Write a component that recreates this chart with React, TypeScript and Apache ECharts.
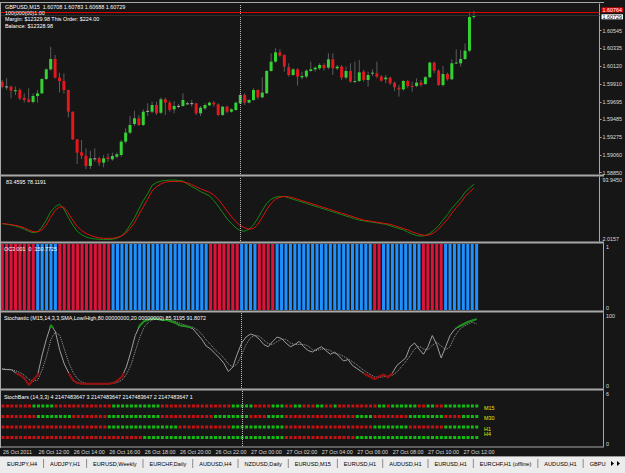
import React, { useEffect, useRef } from "react";
import * as echarts from "echarts";

// ---------------- data ----------------
const opens = [
  1.59936, 1.59877, 1.59877, 1.59829, 1.59837, 1.59745, 1.59726, 1.59694, 1.59765, 1.59797,
  1.59968, 1.60084, 1.60207, 1.59984, 1.59944, 1.59837, 1.59578, 1.59248, 1.59093, 1.59053,
  1.5893, 1.59021, 1.59021, 1.58969, 1.59033, 1.59009, 1.59041, 1.59061, 1.5922, 1.59328,
  1.59431, 1.59499, 1.59419, 1.59586, 1.59578, 1.59658, 1.59566, 1.59726, 1.59686, 1.59606,
  1.59646, 1.59646, 1.59678, 1.59678, 1.59678, 1.59559, 1.59618, 1.59654, 1.59686, 1.59666,
  1.59539, 1.59638, 1.59578, 1.59598, 1.59678, 1.59778, 1.59686, 1.59718, 1.59837, 1.5975,
  1.59798, 1.60064, 1.60176, 1.60287, 1.60255, 1.60108, 1.60016, 1.60084, 1.59989, 1.59997,
  1.60064, 1.60084, 1.60096, 1.60136, 1.60104, 1.60203, 1.60096, 1.60116, 1.59985, 1.60064,
  1.59937, 1.59945, 1.60056, 1.59957, 1.60036, 1.60036, 1.59997, 1.59965, 1.59985, 1.59925,
  1.59865, 1.59845, 1.59945, 1.59885, 1.59885, 1.59925, 1.59909, 1.59989, 1.60164, 1.60068,
  1.59897, 1.60028, 1.59965, 1.60156, 1.60156, 1.60207, 1.60307, 1.60708,
];
const highs = [
  1.59956, 1.59976, 1.59889, 1.59877, 1.59857, 1.59797, 1.59857, 1.59797, 1.59837, 1.59976,
  1.60096, 1.60354, 1.60255, 1.60044, 1.60036, 1.5984, 1.5958, 1.5925, 1.5924, 1.5914,
  1.59113, 1.5914, 1.59041, 1.59061, 1.59081, 1.59089, 1.59089, 1.5924, 1.59379, 1.59527,
  1.5959, 1.59538, 1.59606, 1.59678, 1.59698, 1.59698, 1.59749, 1.59745, 1.5971, 1.59706,
  1.5967, 1.59797, 1.59698, 1.59718, 1.59686, 1.59646, 1.59678, 1.59698, 1.59706, 1.59678,
  1.59646, 1.5965, 1.59618, 1.59698, 1.59798, 1.59798, 1.59726, 1.59857, 1.59845, 1.59989,
  1.60076, 1.60275, 1.60335, 1.60323, 1.60263, 1.60156, 1.60096, 1.60096, 1.60056, 1.60084,
  1.60176, 1.60116, 1.60156, 1.60156, 1.60275, 1.60275, 1.60136, 1.60136, 1.60116, 1.60156,
  1.60176, 1.60195, 1.60076, 1.60056, 1.60084, 1.60176, 1.60016, 1.60016, 1.59997, 1.59937,
  1.59897, 1.59957, 1.59957, 1.59937, 1.59977, 1.59957, 1.60004, 1.60176, 1.60176, 1.60084,
  1.60124, 1.60044, 1.60203, 1.60323, 1.60315, 1.60394, 1.60772, 1.60783,
];
const lows = [
  1.59857, 1.59837, 1.59737, 1.59777, 1.59718, 1.59686, 1.59686, 1.59678, 1.59686, 1.59789,
  1.59956, 1.60068, 1.59976, 1.59809, 1.59797, 1.59511, 1.5924, 1.58953, 1.59013, 1.58894,
  1.58894, 1.58981, 1.5893, 1.58914, 1.58981, 1.58993, 1.59021, 1.59041, 1.592, 1.59312,
  1.59407, 1.59407, 1.59407, 1.59527, 1.59558, 1.59538, 1.5955, 1.59538, 1.59578, 1.59558,
  1.59618, 1.59638, 1.59658, 1.59638, 1.59538, 1.59527, 1.59598, 1.59646, 1.59638, 1.59527,
  1.59527, 1.59559, 1.59567, 1.5959, 1.5967, 1.59658, 1.59678, 1.59706, 1.59726, 1.59738,
  1.5979, 1.60056, 1.60164, 1.60235, 1.60056, 1.59997, 1.60004, 1.59889, 1.59965, 1.59977,
  1.60056, 1.60056, 1.60076, 1.60068, 1.60084, 1.60016, 1.60076, 1.59957, 1.59965, 1.59925,
  1.59917, 1.59933, 1.59937, 1.59877, 1.60004, 1.59977, 1.59937, 1.59917, 1.59897, 1.59825,
  1.59758, 1.59829, 1.59857, 1.59817, 1.59869, 1.59877, 1.59897, 1.59977, 1.60036, 1.59885,
  1.59877, 1.59949, 1.59957, 1.60148, 1.60116, 1.60195, 1.60288, 1.60688,
];
const closes = [
  1.59877, 1.5988, 1.59829, 1.59833, 1.59737, 1.59718, 1.59694, 1.59765, 1.59797, 1.59968,
  1.60084, 1.60207, 1.59984, 1.59944, 1.59837, 1.59578, 1.59248, 1.59089, 1.59053, 1.5893,
  1.59021, 1.59018, 1.58969, 1.59021, 1.59013, 1.59049, 1.59069, 1.5922, 1.59328, 1.59419,
  1.59499, 1.59419, 1.59578, 1.59588, 1.59658, 1.59558, 1.59726, 1.59686, 1.59598, 1.59646,
  1.59648, 1.59718, 1.59678, 1.5968, 1.59558, 1.59626, 1.59658, 1.59686, 1.59666, 1.59539,
  1.59638, 1.59578, 1.59606, 1.59686, 1.59778, 1.59686, 1.59718, 1.59837, 1.5975, 1.59806,
  1.60064, 1.60176, 1.60287, 1.60247, 1.60116, 1.60016, 1.60084, 1.59997, 1.60004, 1.60068,
  1.60084, 1.60104, 1.60136, 1.60096, 1.60203, 1.60096, 1.60116, 1.59985, 1.60064, 1.59937,
  1.59945, 1.60048, 1.59957, 1.60016, 1.60044, 1.59997, 1.59949, 1.59985, 1.59917, 1.59869,
  1.59845, 1.59945, 1.59885, 1.59877, 1.59925, 1.59897, 1.59989, 1.60164, 1.60068, 1.59897,
  1.60028, 1.59965, 1.60156, 1.60164, 1.60207, 1.60307, 1.60708, 1.60729,
];

const oscGreen = [
  27, 26, 25, 23.5, 21.5, 19, 16, 14, 15, 22, 32, 44, 51, 55, 48, 36, 25, 16, 11, 8,
  6, 5, 4.5, 4.3, 4.3, 4.5, 6, 9, 15, 25, 35, 48, 60, 70, 82, 86, 88, 89, 89.5, 89.5,
  89, 88, 84, 80, 77, 73, 70, 67, 60, 52, 43, 34, 27, 21, 17, 16, 19, 25, 35, 46,
  56, 62, 65, 66, 66, 64, 62, 60, 58, 56, 54, 52, 50, 48, 46, 44, 42, 40, 38, 36,
  34, 32, 31, 30, 29, 28, 27, 26, 24, 22, 20, 18, 15, 12, 10, 9, 10, 13, 18, 24,
  32, 40, 49, 56, 63, 72, 78, 83.4595,
];
const oscRed = [
  27, 26.5, 25.5, 24.5, 23, 21, 18, 15.5, 15, 18, 25, 36, 46, 51, 50.5, 42, 32, 23, 17, 13,
  10, 8, 6.5, 6, 5.8, 6, 7, 9, 13, 20, 28, 40, 51, 62, 74, 80, 84, 86.5, 87.5, 87.5,
  87.3, 87, 85.5, 83, 80, 77, 74.5, 72, 68, 62, 54, 45, 37, 30, 24, 21, 19, 20, 26, 36,
  47, 56, 62, 65, 66, 65.5, 64, 62, 60, 58, 56, 54, 52, 50, 48, 46, 44, 42, 40, 38,
  36, 34, 32, 31, 30, 29, 28, 27, 26, 24, 22, 20, 18, 15, 13, 11, 10, 11, 14, 19,
  26, 33, 42, 50, 57, 66, 72, 78.1191,
];

// histogram colours: R = red, B = blue, one letter per bar
const histColors =
  "RRRRRRRR" + "BBBBB" + "RRRRRRRRRRRR" + "BBBBBBBBBBBBBBBBBBBBBB" + "RRRRRRR" + "BBBB" +
  "RRRR" + "BBBBBBBBBBBBBBBBBBBBBB" + "RR" + "BBBBBBBBB" + "RRRRR" + "BBBBBBBB";

const stochMain = [
  25, 24.5, 24.5, 20.4, 17.3, 13, 4, 10.7, 17.3, 44, 66, 84, 75, 50, 32, 20,
  10, 6.5, 5.8, 5.8, 5.8, 5.8, 5.8, 5.8, 5.8, 6.5, 10, 15, 28, 48, 70, 83, 89, 91,
  93, 92, 90.5, 91, 89, 87, 83.5, 82.5, 81.5, 79, 72, 65, 56, 52, 46, 40,
  33, 22, 28, 45, 60, 68, 72, 70, 65, 58, 55, 62, 68, 66, 60, 55, 58, 62, 55, 50, 48, 52,
  55, 50, 45, 48, 42, 36, 38, 30, 26, 22, 18, 15, 12, 15, 18, 14,
  20, 30, 35, 40, 55, 60, 52, 45, 55, 70, 58, 40, 55, 70, 78, 82, 85, 88, 90, 91.8072,
];
const stochSignal = [
  26, 25, 24.5, 23, 20.7, 17, 11.4, 9.2, 10.7, 24, 42, 65, 75, 70, 52, 34,
  20.7, 12, 7.5, 6, 5.8, 5.8, 5.8, 5.8, 5.8, 6, 7.5, 10.5, 18, 30, 49, 67, 81, 88,
  91, 92, 92, 91, 90, 89, 86.5, 84.3, 82.5, 81, 77.5, 72, 64, 58, 51, 46,
  40, 32, 28, 32, 44, 58, 67, 70, 69, 64, 59, 58, 62, 65, 65, 60, 58, 58, 58, 56, 51, 50,
  52, 52, 50, 46, 45, 42, 39, 35, 31, 26, 22, 18, 15, 14, 15, 16,
  17, 21, 28, 35, 43, 52, 56, 52, 51, 57, 61, 56, 51, 55, 68, 77, 82, 85, 88, 85.3195,
];

// StochBars rows (G = green, R = red), one letter per bar
const sbM15 = "RRRRRRRGGGGGRRRRRRRRRRRRRGGGGGGGGGGGRRRRRRRRRRRRRRRRGGGGGRRRRGGGRRGGRRRGGRRGRRRRRRRRRGGRGGGGGGRRGGRRGGGGGGGG";
const sbM30 = "RRRRRRRRGGGGGGGGRRRRRRRRGGGGGGGGGGGGRRRRRRRRRRRRGGGGGGGGRRRRGGGGRRRRRRRRRRRRRRRRGGGGRRRRRRRRGGGGGGGGRRRRGGGGGGGG";
const sbH1 = "RRRRRRRRRRRRRRRRRRRRRRRRGGGGGGGGGGGGGGGGRRRRRRRRRRRRGGGGGGGGGGGGRRRRRRRRRRRRRRRRRRRRGGGGGGGGRRRRRRRRGGGGGGGGGGGG";
const sbH4 = "RRRRRRRRRRRRRRRRRRRRRRRRRRRRRRRRGGGGGGGGGGGGGGGGGGGGGGGGGGGGGGGGRRRRRRRRRRRRRRRRGGGGGGGGGGGGGGGGGGGGGGGGGGGGGGGG";
const sbLevels = [4, 3, 2, 1];
const sbNames = ["M15", "M30", "H1", "H4"];

const timeLabels = [
  "26 Oct 2011", "26 Oct 12:00", "26 Oct 14:00", "26 Oct 16:00", "26 Oct 18:00",
  "26 Oct 20:00", "26 Oct 22:00", "27 Oct 00:00", "27 Oct 02:00", "27 Oct 04:00",
  "27 Oct 06:00", "27 Oct 08:00", "27 Oct 10:00", "27 Oct 12:00",
];
const priceTicks = [
  "1.58850", "1.59060", "1.59275", "1.59485", "1.59695", "1.59910", "1.60120", "1.60335", "1.60545",
];
const bidPrice = 1.60729;
const askPrice = 1.60764;

const tabs = [
  "EURJPY,H4", "AUDJPY,H1", "EURUSD,Weekly", "EURCHF,Daily", "AUDUSD,H4", "NZDUSD,Daily",
  "EURUSD,M15", "EURUSD,H1", "AUDUSD,H1", "EURUSD,H1", "EURCHF,H1 (offline)", "AUDUSD,H1", "GBPUSD,M15",
];

// ---------------- look ----------------
const BG = "#161616";
const FRAME = "#a8a8a8";
const TXT = "#dcdcdc";
const FONT = "Liberation Sans, Arial, sans-serif";
const FS = 5.4;
const TAB_FS = 5.6;
const SLOTS = 136;
const SEP_BAR = 54;
const PANES = [
  { top: 4, height: 170 },
  { top: 177, height: 64 },
  { top: 244, height: 66 },
  { top: 313, height: 75 },
  { top: 391, height: 55 },
];
// visible value range of the StochBars window (labels show the rounded 6 / 0)
const SB_MIN = 0.19;
const SB_MAX = 5.43;

export default function App() {
  const ref = useRef<HTMLDivElement>(null);

  useEffect(() => {
    const el = ref.current!;
    const chart = echarts.init(el, null, { renderer: "svg" });
    const cats = Array.from({ length: SLOTS }, (_, i) => String(i));

    const xAxes = PANES.map((_, k) => ({
      type: "category",
      gridIndex: k,
      data: cats,
      boundaryGap: true,
      axisLine: { show: false },
      axisTick: { show: false },
      splitLine: { show: false },
      axisLabel:
        k === 4
          ? {
              show: true,
              interval: 7,
              formatter: (_v: string, idx: number) => timeLabels[idx / 8] ?? "",
              color: TXT,
              fontSize: FS,
              fontFamily: FONT,
              align: "left",
              verticalAlign: "top",
              margin: 3,
            }
          : { show: false },
    }));

    const axisBase = (k: number, min: number, max: number) => ({
      type: "value",
      gridIndex: k,
      position: "right",
      min,
      max,
      splitLine: { show: false },
      axisLine: { show: true, lineStyle: { color: FRAME, width: 1 } },
    });
    const edgeAxis = (k: number, min: number, max: number, val: number, label: string, va: string) => ({
      ...axisBase(k, min, max),
      axisTick: { show: false },
      axisLabel: {
        customValues: [val],
        formatter: () => label,
        color: TXT,
        fontSize: FS,
        fontFamily: FONT,
        verticalAlign: va,
        margin: 3,
      },
    });

    const tickVals = priceTicks.map(Number);
    const yAxes: any[] = [
      {
        ...axisBase(0, 1.58834, 1.60864),
        axisTick: { show: true, length: 2, customValues: tickVals, lineStyle: { color: FRAME } },
        axisLabel: {
          customValues: tickVals,
          formatter: (v: number) => priceTicks.find((s) => Math.abs(Number(s) - v) < 1e-7) ?? "",
          color: TXT,
          fontSize: FS,
          fontFamily: FONT,
          margin: 3,
        },
      },
      edgeAxis(1, 2.0157, 93.945, 93.945, "93.9450", "top"),
      edgeAxis(1, 2.0157, 93.945, 2.0157, "2.0157", "bottom"),
      edgeAxis(2, 0, 1, 1, "1", "top"),
      edgeAxis(2, 0, 1, 0, "0", "bottom"),
      edgeAxis(3, 0, 100, 100, "100", "top"),
      edgeAxis(3, 0, 100, 0, "0", "bottom"),
      edgeAxis(4, SB_MIN, SB_MAX, SB_MAX, "6", "top"),
      edgeAxis(4, SB_MIN, SB_MAX, SB_MIN, "0", "bottom"),
    ];

    const sepLine = {
      xAxis: SEP_BAR,
      lineStyle: { type: "dotted", color: "#bdbdbd", width: 1 },
      label: { show: false },
    };
    const sepMark = { silent: true, symbol: "none", animation: false, data: [sepLine] };
    const priceLabel = (txt: string, color: string, bg: string, dy: number) => ({
      show: true,
      position: "end",
      distance: 2,
      offset: [0, dy],
      formatter: txt,
      color,
      backgroundColor: bg,
      fontSize: FS,
      fontFamily: FONT,
      padding: [0, 1],
    });

    const candleData = opens.map((o, i) => [i, o, closes[i], lows[i], highs[i]]);

    const series: any[] = [
      {
        type: "custom",
        xAxisIndex: 0,
        yAxisIndex: 0,
        data: candleData,
        renderItem: (_p: any, api: any) => {
          const x = api.value(0);
          const o = api.value(1);
          const c = api.value(2);
          const pO = api.coord([x, o]);
          const pC = api.coord([x, c]);
          const pL = api.coord([x, api.value(3)]);
          const pH = api.coord([x, api.value(4)]);
          const w = 3;
          const doji = Math.abs(o - c) < 0.00004;
          const fill = doji ? "#b0b0b0" : c > o ? "#35d235" : "#e3171c";
          const top = Math.min(pO[1], pC[1]);
          const h = Math.max(1, Math.abs(pO[1] - pC[1]));
          return {
            type: "group",
            children: [
              {
                type: "line",
                shape: { x1: pH[0], y1: pH[1], x2: pL[0], y2: pL[1] },
                style: { stroke: "#5c5c5c", lineWidth: 1 },
              },
              {
                type: "rect",
                shape: { x: pO[0] - w / 2, y: top, width: w, height: h },
                style: { fill: fill },
              },
            ],
          };
        },
      },
      {
        // invisible close line that carries the price lines and the day separator
        type: "line",
        xAxisIndex: 0,
        yAxisIndex: 0,
        data: closes,
        symbol: "none",
        silent: true,
        lineStyle: { opacity: 0 },
        markLine: {
          silent: true,
          symbol: "none",
          animation: false,
          precision: 5,
          data: [
            sepLine,
            {
              yAxis: askPrice,
              lineStyle: { type: "solid", color: "#e00000", width: 1 },
              label: priceLabel(askPrice.toFixed(5), "#ffffff", "#e00000", -2.5),
            },
            {
              yAxis: bidPrice,
              lineStyle: { type: "solid", color: "#2e2e2e", width: 1 },
              label: priceLabel(bidPrice.toFixed(5), "#000000", "#ffffff", 1.5),
            },
          ],
        },
      },
      {
        type: "line",
        xAxisIndex: 1,
        yAxisIndex: 1,
        data: oscGreen,
        symbol: "none",
        lineStyle: { color: "#138a13", width: 1 },
        markLine: sepMark,
      },
      {
        type: "line",
        xAxisIndex: 1,
        yAxisIndex: 1,
        data: oscRed,
        symbol: "none",
        lineStyle: { color: "#e01010", width: 1 },
      },
      {
        type: "bar",
        xAxisIndex: 2,
        yAxisIndex: 3,
        barWidth: 3,
        data: histColors.split("").map((c) => ({
          value: 1,
          itemStyle: { color: c === "R" ? "#dc143c" : "#1e90ff" },
        })),
      },
      {
        type: "line",
        xAxisIndex: 3,
        yAxisIndex: 5,
        data: stochSignal,
        symbol: "none",
        lineStyle: { color: "#9c9c9c", width: 1, type: "dotted" },
        markLine: sepMark,
      },
      {
        type: "line",
        xAxisIndex: 3,
        yAxisIndex: 5,
        data: stochMain,
        symbol: "none",
        lineStyle: { color: "#9e9e9e", width: 1 },
      },
      {
        type: "line",
        xAxisIndex: 3,
        yAxisIndex: 5,
        data: stochMain.map((v, i) => [i, v]),
        symbol: "none",
        lineStyle: { width: 2 },
      },
    ];
    const overlayIndex = series.length - 1;

    const rows = [sbM15, sbM30, sbH1, sbH4];
    rows.forEach((row, r) => {
      const pts: any[] = [];
      for (let i = 0; i < opens.length; i++) {
        const ch = row.charAt(i);
        if (!ch) continue;
        pts.push({ value: [i, sbLevels[r]], itemStyle: { color: ch === "G" ? "#12e412" : "#f01010" } });
      }
      series.push({
        type: "scatter",
        xAxisIndex: 4,
        yAxisIndex: 7,
        symbol: "rect",
        symbolSize: [3, 3],
        data: pts,
        markLine: r === 0 ? sepMark : undefined,
      });
    });

    // ---------- graphic decorations ----------
    const g: any[] = [];
    const rect = (x: number, y: number, w: number, h: number, fill: string, z = 50) =>
      g.push({ type: "rect", shape: { x, y, width: w, height: h }, style: { fill }, silent: true, z });
    const line = (x1: number, y1: number, x2: number, y2: number, stroke: string, w = 1, z = 50) =>
      g.push({ type: "line", shape: { x1, y1, x2, y2 }, style: { stroke, lineWidth: w }, silent: true, z });
    const text = (t: string, x: number, y: number, fill: string, fs = FS) =>
      g.push({
        type: "text",
        x,
        y,
        style: { text: t, fill, fontSize: fs, fontFamily: FONT, verticalAlign: "middle", align: "left" },
        silent: true,
        z: 60,
      });

    // frame
    line(0, 2.5, 604, 2.5, FRAME);
    line(0.5, 2, 0.5, 448, FRAME);
    rect(0, 174.5, 604, 2, FRAME);
    rect(0, 241.5, 604, 2, FRAME);
    rect(0, 310.5, 604, 2, FRAME);
    rect(0, 388.5, 604, 2, FRAME);
    line(0, 447, 604, 447, FRAME);

    // header
    text("GBPUSD,M15  1.60708 1.60783 1.60688 1.60729", 5, 6.5, "#ffffff");
    text("100(000(00)1.00", 5, 12.5, "#ffffff");
    text("Margin: $12329.98 This Order: $224.00", 5, 19, "#ffffff");
    text("Balance: $12328.98", 5, 25.5, "#ffffff");

    // pane titles
    text("83.4595 78.1191", 6, 182, "#ffffff");
    text("OC3 001  0  150.7725", 4, 249, "#ffffff");
    text("Stochastic (M15,14,3,3,SMA,Low/High,80.00000000,20.00000000) 85.3195 91.8072", 4, 318, "#ffffff");
    text("StochBars (14,3,3) 4 2147483647 3 2147483647 2147483647 2 2147483647 1", 4, 397, "#ffffff");
    const rowLabelY = [408, 418, 429, 434];
    sbNames.forEach((n, i) => text(n, 484, rowLabelY[i], "#e6e600"));

    // tab bar
    rect(0, 456, 625, 17, "#ececec", 40);
    line(0, 456.5, 625, 456.5, "#9a9a9a", 1, 41);
    const ctx = document.createElement("canvas").getContext("2d")!;
    ctx.font = `${TAB_FS}px ${FONT}`;
    let tx = 7;
    tabs.forEach((t, i) => {
      text(t, tx, 463.5, "#000000", TAB_FS);
      tx += ctx.measureText(t).width + 6.5;
      if (i < tabs.length - 1) {
        line(tx, 459, tx, 468, "#8c8c8c", 1, 61);
        tx += 6.5;
      }
    });
    rect(606, 457, 19, 16, "#ececec", 70);
    g.push({ type: "polygon", shape: { points: [[614, 463.5], [611, 461], [611, 466]] }, style: { fill: "#000" }, z: 71 });
    g.push({ type: "polygon", shape: { points: [[617, 461], [620, 463.5], [617, 466]] }, style: { fill: "#000" }, z: 71 });

    chart.setOption({
      animation: false,
      backgroundColor: BG,
      grid: PANES.map((p) => ({ left: 0, width: 603, top: p.top, height: p.height })),
      xAxis: xAxes,
      yAxis: yAxes,
      visualMap: [
        {
          show: false,
          type: "piecewise",
          seriesIndex: overlayIndex,
          dimension: 1,
          pieces: [
            { lt: 20, color: "#9a1010" },
            { gte: 20, lte: 80, color: "rgba(0,0,0,0)" },
            { gt: 80, color: "#1e8f1e" },
          ],
        },
      ],
      series,
      graphic: g,
    });

    return () => chart.dispose();
  }, []);

  return (
    <div
      ref={ref}
      style={{ position: "fixed", left: 0, top: 0, width: 625, height: 473, background: BG }}
    />
  );
}
